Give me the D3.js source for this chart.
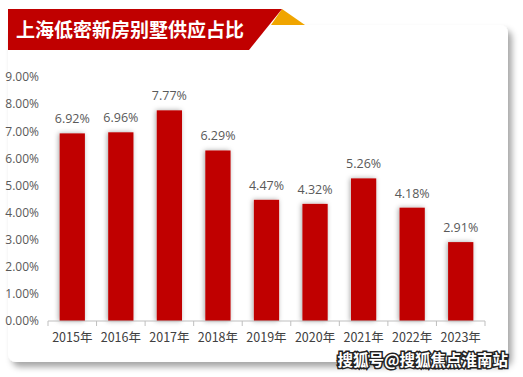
<!DOCTYPE html>
<html>
<head>
<meta charset="utf-8">
<script src="https://cdn.jsdelivr.net/npm/d3@7"></script>
<style>
  body { margin: 0; background: #fff; }
  text { font-family: "Noto Sans CJK SC", "Open Sans", sans-serif; }
</style>
</head>
<body>
<div class="chart"></div>
<script>
var years = ['2015年', '2016年', '2017年', '2018年', '2019年', '2020年', '2021年', '2022年', '2023年'];
var shares = [6.92, 6.96, 7.77, 6.29, 4.47, 4.32, 5.26, 4.18, 2.91];
var yTicks = [0, 1, 2, 3, 4, 5, 6, 7, 8, 9];
var title = '上海低密新房别墅供应占比';
var credit = '搜狐号@搜狐焦点淮南站';

var W = 523, H = 377;
var margin = { top: 77, right: 38, bottom: 56, left: 48 };
var width = W - margin.left - margin.right;
var height = H - margin.top - margin.bottom;

var svg = d3.select('.chart')
  .append('svg')
    .attr('width', W)
    .attr('height', H);

var defs = svg.append('defs');
var cardShadow = defs.append('filter').attr('id', 'cardShadow')
  .attr('x', '-10%').attr('y', '-10%').attr('width', '120%').attr('height', '125%');
cardShadow.append('feDropShadow')
  .attr('dx', 4).attr('dy', 5).attr('stdDeviation', 3)
  .attr('flood-color', '#000').attr('flood-opacity', 0.35);

var barShadow = defs.append('filter').attr('id', 'barShadow')
  .attr('x', '-40%').attr('y', '-10%').attr('width', '180%').attr('height', '120%');
barShadow.append('feDropShadow')
  .attr('dx', -1).attr('dy', 0).attr('stdDeviation', 2.5)
  .attr('flood-color', '#000').attr('flood-opacity', 0.35);

// card
svg.append('rect')
  .attr('x', 8).attr('y', 25)
  .attr('width', 500).attr('height', 337)
  .attr('rx', 8)
  .style('fill', '#fff')
  .attr('filter', 'url(#cardShadow)');

// title banner
svg.append('polygon')
  .attr('points', '282,9 305,25 271,25')
  .style('fill', '#F0A500');
svg.append('polygon')
  .attr('points', '8,9 282,9 249,50 8,50')
  .style('fill', '#C00000');
svg.append('text')
  .attr('x', 16).attr('y', 37)
  .style('font-size', '19px')
  .style('font-weight', 'bold')
  .style('fill', '#fff')
  .text(title);

var g = svg.append('g')
  .attr('transform', `translate(${margin.left}, ${margin.top})`);

var xScale = d3.scaleBand()
  .domain(years)
  .range([0, width])
  .paddingInner(0.48)
  .paddingOuter(0.24);

var yScale = d3.scaleLinear()
  .domain([0, 9])
  .range([height, 0]);

// y axis labels only
var yAxis = d3.axisLeft(yScale)
  .tickValues(yTicks)
  .tickSize(0)
  .tickPadding(9)
  .tickFormat(d => d3.format('.2f')(d) + '%');
var yG = g.append('g').call(yAxis);
yG.select('.domain').remove();
yG.selectAll('text')
  .style('font-size', '12px')
  .style('fill', '#595959')
  .style('font-family', '"Open Sans", "Noto Sans", sans-serif');

// bars
g.selectAll('.bar')
  .data(shares)
  .enter().append('rect')
    .attr('class', 'bar')
    .attr('x', (d, i) => xScale(years[i]))
    .attr('y', d => yScale(d))
    .attr('width', xScale.bandwidth())
    .attr('height', d => height - yScale(d))
    .style('fill', '#C00000')
    .attr('filter', 'url(#barShadow)');

g.selectAll('.val')
  .data(shares)
  .enter().append('text')
    .attr('class', 'val')
    .attr('x', (d, i) => xScale(years[i]) + xScale.bandwidth() / 2)
    .attr('y', d => yScale(d) - 10)
    .attr('text-anchor', 'middle')
    .style('font-size', '12.5px')
    .style('fill', '#595959')
    .style('font-family', '"Open Sans", "Noto Sans", sans-serif')
    .text(d => d3.format('.2f')(d) + '%');

// x axis with ticks between categories
var xG = g.append('g')
  .attr('transform', `translate(0, ${height})`);
xG.append('line')
  .attr('x1', 0).attr('x2', width)
  .style('stroke', '#BFBFBF');
xG.selectAll('.tk')
  .data(d3.range(years.length + 1))
  .enter().append('line')
    .attr('x1', i => i * width / years.length)
    .attr('x2', i => i * width / years.length)
    .attr('y1', 0).attr('y2', 5)
    .style('stroke', '#BFBFBF');
xG.selectAll('.lbl')
  .data(years)
  .enter().append('text')
    .attr('x', d => xScale(d) + xScale.bandwidth() / 2)
    .attr('y', 21)
    .attr('text-anchor', 'middle')
    .style('font-size', '12.5px')
    .style('fill', '#404040')
    .text(d => d);

// watermark
svg.append('text')
  .attr('x', 508).attr('y', 366)
  .attr('text-anchor', 'end')
  .style('font-size', '15.5px')
  .style('font-weight', 'bold')
  .style('fill', '#fff')
  .style('stroke', '#222')
  .style('stroke-width', 3)
  .style('paint-order', 'stroke')
  .text(credit);
</script>
</body>
</html>
